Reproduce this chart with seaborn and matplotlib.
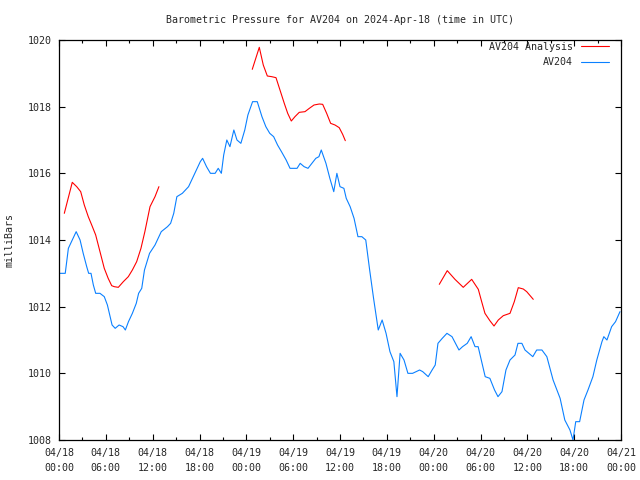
import numpy as np
import pandas as pd
import matplotlib
matplotlib.use("Agg")
import matplotlib.pyplot as plt
import matplotlib.dates as mdates
import seaborn as sns

# ---- data (hours after 2024-04-18 00:00 UTC, millibars) ----
obs_hours = [0.0, 0.8, 1.2, 1.6, 2.2, 2.7, 3.1, 3.55, 3.8, 4.1, 4.4, 4.7, 5.25, 5.8, 6.2, 6.5,
             6.8, 7.2, 7.7, 8.2, 8.5, 8.9, 9.4, 9.9, 10.2, 10.6, 10.95, 11.6, 12.3, 13.1, 13.9,
             14.3, 14.7, 15.1, 15.8, 16.6, 17.2, 17.7, 18.1, 18.4, 18.9, 19.4, 20.0, 20.4, 20.8,
             21.1, 21.5, 21.9, 22.4, 22.8, 23.3, 23.8, 24.2, 24.8, 25.4, 26.0, 26.5, 27.0, 27.5,
             28.0, 28.5, 29.1, 29.6, 30.1, 30.5, 30.9, 31.4, 31.9, 32.4, 32.9, 33.3, 33.6, 34.2,
             34.7, 35.2, 35.6, 36.0, 36.5, 36.8, 37.3, 37.8, 38.3, 38.8, 39.3, 39.8, 40.3, 40.9,
             41.4, 41.9, 42.4, 42.9, 43.3, 43.7, 44.2, 44.7, 45.3, 46.2, 46.6, 47.3, 47.8, 48.2,
             48.55, 49.1, 49.7, 50.35, 50.8, 51.24, 51.7, 52.3, 52.8, 53.3, 53.7, 54.6, 55.2,
             55.8, 56.24, 56.75, 57.26, 57.78, 58.42, 58.8, 59.3, 59.7, 60.7, 61.2, 61.87, 62.5,
             63.3, 64.2, 64.8, 65.46, 65.85, 66.2, 66.7, 67.26, 67.77, 68.4, 68.9, 69.56, 69.8,
             70.2, 70.8, 71.3, 71.87]
obs_mb = [1013.0, 1013.0, 1013.75, 1013.95, 1014.25, 1014.0, 1013.6, 1013.2, 1013.0, 1013.0,
          1012.65, 1012.4, 1012.4, 1012.3, 1012.05, 1011.75, 1011.45, 1011.35, 1011.45, 1011.4,
          1011.3, 1011.55, 1011.8, 1012.1, 1012.4, 1012.55, 1013.1, 1013.6, 1013.85, 1014.25,
          1014.4, 1014.5, 1014.8, 1015.3, 1015.4, 1015.6, 1015.9, 1016.15, 1016.35, 1016.45,
          1016.2, 1016.0, 1016.0, 1016.15, 1016.0, 1016.55, 1017.0, 1016.8, 1017.3, 1017.0,
          1016.9, 1017.3, 1017.75, 1018.15, 1018.15, 1017.7, 1017.4, 1017.2, 1017.1, 1016.85,
          1016.65, 1016.4, 1016.15, 1016.15, 1016.15, 1016.3, 1016.2, 1016.15, 1016.3, 1016.45,
          1016.5, 1016.7, 1016.3, 1015.85, 1015.45, 1016.0, 1015.6, 1015.55, 1015.25, 1015.0,
          1014.65, 1014.1, 1014.1, 1014.0, 1013.1, 1012.25, 1011.3, 1011.6, 1011.2, 1010.65,
          1010.35, 1009.3, 1010.6, 1010.4, 1010.0, 1010.0, 1010.1, 1010.05, 1009.9, 1010.1,
          1010.25, 1010.9, 1011.05, 1011.2, 1011.1, 1010.9, 1010.7, 1010.8, 1010.9, 1011.1,
          1010.8, 1010.8, 1009.9, 1009.85, 1009.5, 1009.3, 1009.45, 1010.1, 1010.4, 1010.55,
          1010.9, 1010.9, 1010.7, 1010.5, 1010.7, 1010.7, 1010.5, 1009.8, 1009.25, 1008.6,
          1008.3, 1008.0, 1008.55, 1008.55, 1009.2, 1009.5, 1009.9, 1010.4, 1010.95, 1011.1,
          1011.0, 1011.4, 1011.55, 1011.85]

ana_hours_1 = [0.68, 1.7, 2.27, 2.78, 3.24, 3.75, 4.19, 4.7, 5.25, 5.8, 6.3, 6.75, 7.08, 7.6,
               8.24, 8.88, 9.4, 9.95, 10.5, 11.0, 11.66, 12.3, 12.8]
ana_mb_1 = [1014.8, 1015.73, 1015.6, 1015.45, 1015.05, 1014.7, 1014.45, 1014.15, 1013.65,
            1013.15, 1012.85, 1012.63, 1012.6, 1012.58, 1012.75, 1012.9, 1013.1, 1013.35,
            1013.75, 1014.25, 1015.0, 1015.3, 1015.6]
ana_hours_2 = [24.76, 25.66, 26.17, 26.69, 27.25, 27.8, 28.31, 28.86, 29.3, 29.76, 30.23,
               30.78, 31.51, 32.07, 32.67, 33.35, 33.78, 34.29, 34.8, 35.36, 35.9, 36.34, 36.68]
ana_mb_2 = [1019.12, 1019.78, 1019.25, 1018.92, 1018.9, 1018.87, 1018.5, 1018.1, 1017.8,
            1017.57, 1017.7, 1017.83, 1017.85, 1017.95, 1018.05, 1018.08, 1018.07, 1017.8,
            1017.5, 1017.45, 1017.37, 1017.17, 1016.98]
ana_hours_3 = [48.72, 49.74, 50.73, 51.79, 52.87, 53.72, 54.15, 54.57, 55.2, 55.73, 56.28,
               56.92, 57.78, 58.33, 58.84, 59.48, 59.92, 60.76]
ana_mb_3 = [1012.67, 1013.08, 1012.82, 1012.58, 1012.82, 1012.52, 1012.15, 1011.8, 1011.58,
            1011.42, 1011.6, 1011.73, 1011.8, 1012.15, 1012.57, 1012.53, 1012.45, 1012.22]

series_names = ["AV204 Analysis", "AV204"]
colors = {"AV204 Analysis": "#ff0000", "AV204": "#0a80ff"}
x_tick_fmt = "%m/%d\n%H:%M"
y_ticks = [1008, 1010, 1012, 1014, 1016, 1018, 1020]
title = "Barometric Pressure for AV204 on 2024-Apr-18 (time in UTC)"
ylabel = "milliBars"

# ---- build tidy table ----
t0 = pd.Timestamp("2024-04-18 00:00")
rows = []
for seg, (hh, vv) in enumerate([(ana_hours_1, ana_mb_1), (ana_hours_2, ana_mb_2),
                                (ana_hours_3, ana_mb_3)]):
    for h, v in zip(hh, vv):
        rows.append(("AV204 Analysis", seg, t0 + pd.Timedelta(hours=h), v))
for h, v in zip(obs_hours, obs_mb):
    rows.append(("AV204", 10, t0 + pd.Timedelta(hours=h), v))
df = pd.DataFrame(rows, columns=["series", "seg", "time", "mb"])

# ---- plot ----
sns.set_style("ticks")
plt.rcParams["font.family"] = ["DejaVu Sans Mono"]
FS = 7.2

fig = plt.figure(figsize=(6.4, 4.8), dpi=100)
ax = fig.add_axes([59 / 640, 1 - 440 / 480, 562 / 640, 400 / 480])

sns.lineplot(data=df, x="time", y="mb", hue="series", units="seg", estimator=None,
             hue_order=series_names, palette=colors, linewidth=0.8, ax=ax,
             sort=True)

ax.set_xlim(t0, t0 + pd.Timedelta(hours=72))
ax.set_ylim(1008, 1020)
ax.set_yticks(y_ticks)
ax.xaxis.set_major_locator(mdates.HourLocator(byhour=[0, 6, 12, 18]))
ax.xaxis.set_minor_locator(mdates.HourLocator(byhour=[3, 9, 15, 21]))
ax.xaxis.set_major_formatter(mdates.DateFormatter(x_tick_fmt))

ax.tick_params(which="both", direction="in", top=True, right=True, labelsize=FS,
               color="black", width=0.8)
ax.tick_params(which="major", length=4)
ax.tick_params(axis="x", which="major", pad=6)
ax.tick_params(axis="y", which="major", pad=5)
ax.tick_params(which="minor", length=2)
ax.tick_params(axis="y", which="minor", left=False, right=False)
for lbl in ax.get_xticklabels():
    lbl.set_linespacing(1.55)
for s in ax.spines.values():
    s.set_linewidth(0.9)
    s.set_color("black")

ax.set_xlabel("")
ax.set_ylabel(ylabel, fontsize=FS)
ax.yaxis.set_label_coords(-0.08, 0.5)
fig.text(340 / 640, 1 - 20 / 480, title, ha="center", va="center", fontsize=FS)

handles, labels = ax.get_legend_handles_labels()
ax.legend(handles, labels, loc="upper right", bbox_to_anchor=(0.9786, 0.995),
          frameon=False, markerfirst=False, fontsize=FS, handlelength=2.8,
          handletextpad=0.8, labelspacing=0.55, borderpad=0, borderaxespad=0)

fig.savefig("out.png", dpi=100)
